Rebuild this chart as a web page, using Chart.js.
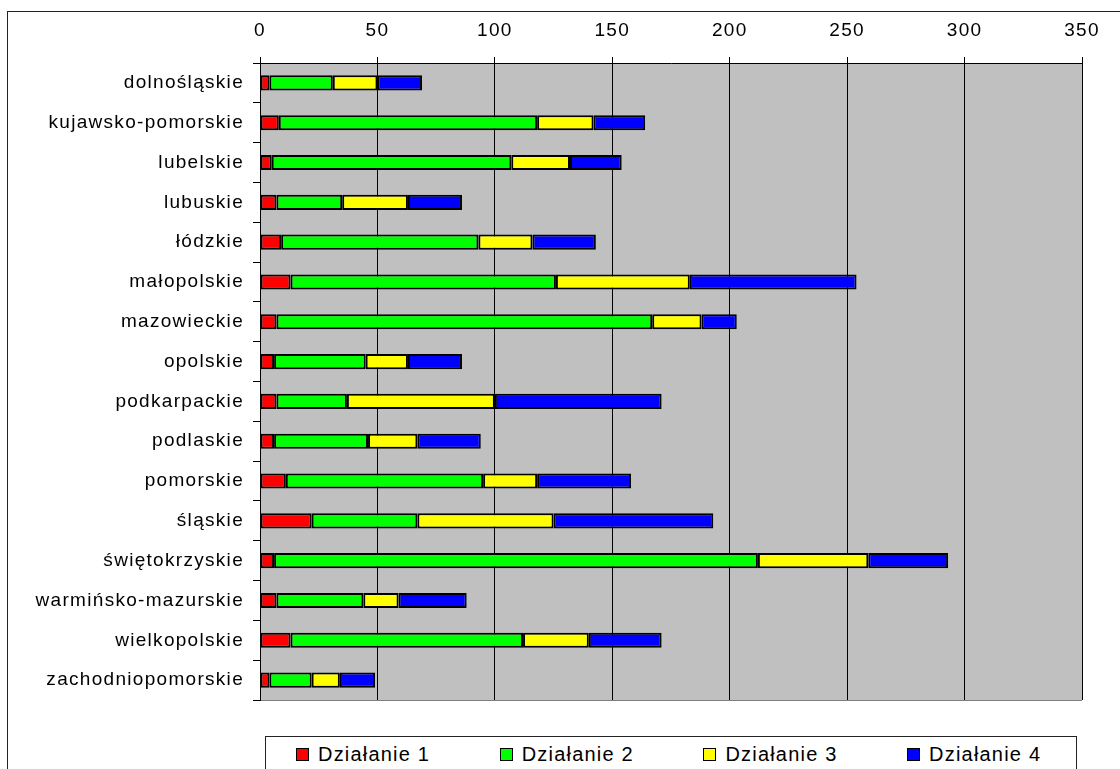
<!DOCTYPE html>
<html>
<head>
<meta charset="utf-8">
<script src="https://cdn.jsdelivr.net/npm/chart.js@4.4.0/dist/chart.umd.min.js"></script>
<style>
  html, body { margin:0; padding:0; background:#fff; overflow:hidden; }
  #wrap { position:relative; width:1120px; height:769px; }
  #frame { position:absolute; left:7px; top:11px; width:1200px; height:900px; border:1px solid #222; }
  #chart { position:absolute; left:0; top:0; }
  #legend { position:absolute; left:265px; top:736px; width:810px; height:60px; border:1px solid #222; background:#fff;
            font:20px "Liberation Sans", Arial, sans-serif; letter-spacing:1.2px; line-height:20px; color:#000; }
  .item { position:absolute; top:7px; display:flex; align-items:center; white-space:nowrap; }
  .sw { width:11px; height:11px; border:1px solid #000; margin-right:9px; }
</style>
</head>
<body>
<div id="wrap">
  <div id="frame"></div>
  <canvas id="chart" width="1120" height="769"></canvas>
  <div id="legend"></div>
</div>
<script>
// categories (voivodeships) and the four stacked series
const categories = ['dolnośląskie', 'kujawsko-pomorskie', 'lubelskie', 'lubuskie', 'łódzkie', 'małopolskie',
  'mazowieckie', 'opolskie', 'podkarpackie', 'podlaskie', 'pomorskie', 'śląskie', 'świętokrzyskie',
  'warmińsko-mazurskie', 'wielkopolskie', 'zachodniopomorskie'];
const dzialanie1 = [4, 8, 5, 7, 9, 13, 7, 6, 7, 6, 11, 22, 6, 7, 13, 4];
const dzialanie2 = [27, 110, 102, 28, 84, 113, 160, 39, 30, 40, 84, 45, 206, 37, 99, 18];
const dzialanie3 = [19, 24, 25, 28, 23, 57, 21, 18, 63, 21, 23, 58, 47, 15, 28, 12];
const dzialanie4 = [19, 22, 22, 23, 27, 71, 15, 23, 71, 27, 40, 68, 34, 29, 31, 15];
const seriesNames = ['Działanie 1', 'Działanie 2', 'Działanie 3', 'Działanie 4'];
const seriesColors = ['#ff0000', '#00ff00', '#ffff00', '#0000ff'];
const xMin = 0, xMax = 350, xStep = 50;

Chart.defaults.font.family = '"Liberation Sans", Arial, sans-serif';
Chart.defaults.font.size = 19;
Chart.defaults.color = '#000';

// grey plot background, drawn before grid and bars
const plotBg = {
  id: 'plotBg',
  beforeDraw(chart) {
    const {ctx, chartArea: a} = chart;
    ctx.save();
    ctx.fillStyle = '#c0c0c0';
    ctx.fillRect(a.left, a.top, a.right - a.left, a.bottom - a.top);
    ctx.strokeStyle = '#808080';
    ctx.lineWidth = 1;
    ctx.beginPath();
    ctx.moveTo(a.left, a.bottom + 0.5);
    ctx.lineTo(a.right, a.bottom + 0.5);
    ctx.stroke();
    ctx.restore();
    ctx.letterSpacing = '1.3px';
  }
};

const values = [dzialanie1, dzialanie2, dzialanie3, dzialanie4];

const chart = new Chart(document.getElementById('chart'), {
  type: 'bar',
  data: {
    labels: categories,
    datasets: values.map((v, i) => ({
      label: seriesNames[i],
      data: v,
      backgroundColor: seriesColors[i],
      borderColor: '#000',
      borderWidth: 2,
      borderSkipped: false,
      categoryPercentage: 1,
      barPercentage: 0.38
    }))
  },
  options: {
    indexAxis: 'y',
    responsive: false,
    animation: false,
    layout: {padding: {left: 0, top: 0, right: 38, bottom: 69}},
    plugins: {legend: {display: false}, tooltip: {enabled: false}},
    scales: {
      x: {
        position: 'top',
        stacked: true,
        min: xMin, max: xMax,
        ticks: {stepSize: xStep, padding: 15, color: '#000'},
        grid: {color: '#000', lineWidth: 1, tickLength: 6},
        border: {color: '#000', width: 1},
        afterFit(s) { s.height = 63; }
      },
      y: {
        stacked: true,
        ticks: {padding: 9, color: '#000', autoSkip: false},
        grid: {drawOnChartArea: false, color: '#000', tickLength: 7, offset: true},
        border: {color: '#000', width: 1},
        afterFit(s) { s.width = 260; }
      }
    }
  },
  plugins: [plotBg]
});

// legend box under the plot
const legend = document.getElementById('legend');
chart.data.datasets.forEach((ds, i) => {
  const el = document.createElement('div');
  el.className = 'item';
  el.style.left = (30 + i * 203.7) + 'px';
  el.innerHTML = `<span class="sw" style="background:${ds.backgroundColor}"></span><span>${ds.label}</span>`;
  legend.appendChild(el);
});
</script>
</body>
</html>
